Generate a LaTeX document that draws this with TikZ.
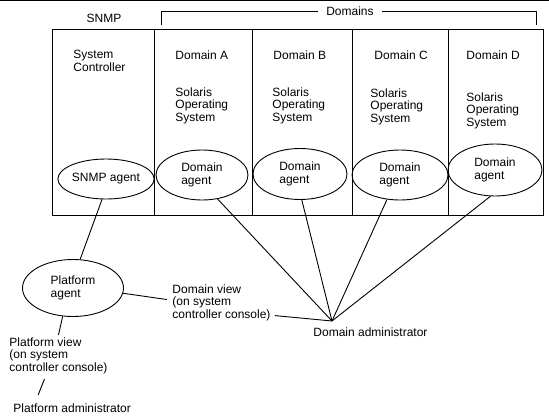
\documentclass[tikz,border=0pt]{standalone}
\usepackage{fontspec}
\setmainfont{Liberation Sans}
\usetikzlibrary{shapes.geometric}
\begin{document}
\begin{tikzpicture}[x=1pt,y=-1pt,line width=0.9pt,
  font=\fontsize{12pt}{12.5pt}\selectfont,
  agent/.style={draw,ellipse,inner sep=0pt,align=left},
  txt/.style={anchor=north west,inner sep=0pt,align=left}]
\useasboundingbox (0,0) rectangle (549,418);
\draw (0,0.5) -- (549,0.5);
\draw (52,29) rectangle (543,215);
\foreach \xd in {154,252,352,448} \draw (\xd,29) -- (\xd,215);
\node (snmplbl) at (104,18) {SNMP};
\node[inner xsep=8pt,inner ysep=0pt] (doms) at (350,11) {Domains};
\draw (161,25) |- (doms.west);
\draw (doms.east) -| (536,25);
\node[txt] (sysctl) at (73,50) {System\\Controller};
\foreach \lt/\xd/\xs/\ys in {A/175/175/87,B/273/272/87,C/374/370/88,D/466/466/92} {
  \node[txt] (dom\lt) at (\xd,50) {Domain \lt};
  \node[txt] (sol\lt) at (\xs,\ys) {Solaris\\Operating\\System};
}
\node[agent,minimum width=82pt,minimum height=40pt] (snmp) at (106,179) {SNMP agent};
\node[agent,minimum width=92pt,minimum height=50pt] (agA) at (202,175) {Domain\\agent};
\node[agent,minimum width=94pt,minimum height=51pt] (agB) at (300,174) {Domain\\agent};
\node[agent,minimum width=96pt,minimum height=50pt] (agC) at (400,175) {Domain\\agent};
\node[agent,minimum width=94pt,minimum height=52pt] (agD) at (495,170) {Domain\\agent};
\node[agent,minimum width=101pt,minimum height=57pt] (plat) at (73,288) {Platform\\agent};
\node[txt] (dview) at (172,284) {Domain view\\(on system\\controller console)};
\node[txt] (pview) at (9,337) {Platform view\\(on system\\controller console)};
\node[txt] (dadm) at (313,327) {Domain administrator};
\node[txt] (padm) at (13,403) {Platform administrator};
\coordinate (admin) at (332,321);
\draw (snmp.-101) -- (plat.76);
\foreach \ag/\an in {agA/-57,agB/-86,agC/-118,agD/-100} \draw (\ag.\an) -- (admin);
\draw (plat.-6) -- ([xshift=-5pt,yshift=3pt]dview.west);
\draw ([xshift=4pt,yshift=5.5pt]dview.south east) -- (admin);
\draw (plat.-110) -- ([yshift=2pt]pview.north);
\draw ([xshift=-14pt,yshift=-5pt]pview.south) -- ([xshift=-34pt,yshift=8pt]padm.north);
\end{tikzpicture}
\end{document}
